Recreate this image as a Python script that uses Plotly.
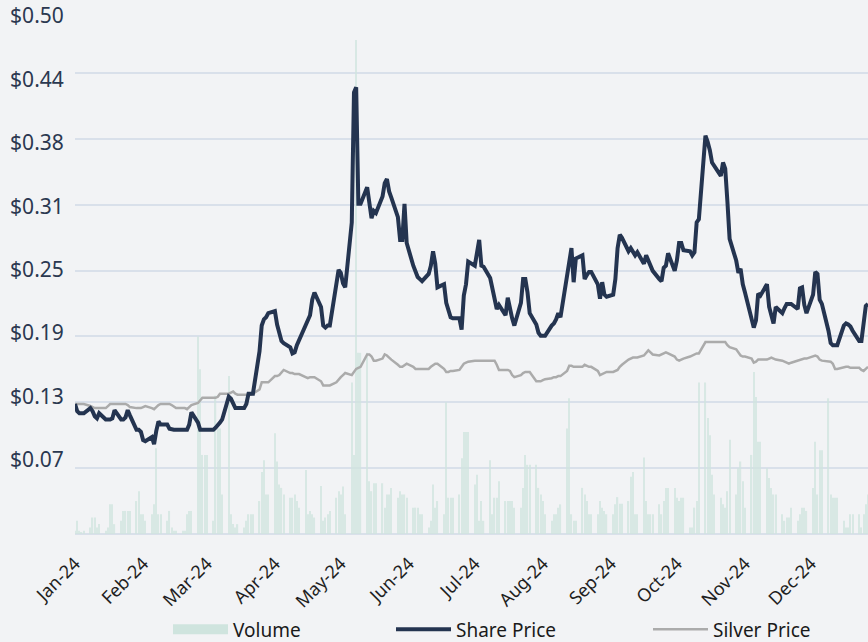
import pandas as pd
import plotly.graph_objects as go

# ---------------- data ----------------
dates = pd.bdate_range("2024-01-01", "2024-12-27")

share_price = [
    0.124, 0.117, 0.115, 0.115, 0.115,
    0.120, 0.117, 0.112, 0.110, 0.115,
    0.109, 0.109, 0.109, 0.110, 0.118,
    0.109, 0.109, 0.111, 0.118, 0.113,
    0.099, 0.099, 0.097, 0.089, 0.088,
    0.092, 0.085, 0.098, 0.107, 0.104,
    0.104, 0.100, 0.099, 0.099, 0.099,
    0.099, 0.099, 0.099, 0.104, 0.116,
    0.106, 0.099, 0.099, 0.099, 0.099,
    0.099, 0.101, 0.103, 0.106, 0.109,
    0.131, 0.129, 0.125, 0.120, 0.120,
    0.120, 0.124, 0.134, 0.134, 0.134,
    0.175, 0.200, 0.206, 0.208, 0.212,
    0.214, 0.201, 0.192, 0.185, 0.183,
    0.179, 0.173, 0.174, 0.181, 0.186,
    0.200, 0.207, 0.210, 0.225, 0.232,
    0.218, 0.200, 0.198, 0.200, 0.200,
    0.245, 0.254, 0.251, 0.241, 0.237,
    0.300, 0.426, 0.431, 0.318, 0.318,
    0.334, 0.315, 0.304, 0.311, 0.309,
    0.325, 0.338, 0.342, 0.330, 0.324,
    0.305, 0.283, 0.283, 0.318, 0.280,
    0.258, 0.252, 0.247, 0.245, 0.243,
    0.250, 0.258, 0.272, 0.260, 0.237,
    0.240, 0.222, 0.214, 0.208, 0.207,
    0.207, 0.196, 0.229, 0.240, 0.262,
    0.258, 0.270, 0.283, 0.258, 0.257,
    0.246, 0.235, 0.224, 0.216, 0.220,
    0.210, 0.227, 0.215, 0.207, 0.200,
    0.222, 0.245, 0.245, 0.232, 0.212,
    0.201, 0.193, 0.190, 0.190, 0.190,
    0.200, 0.202, 0.206, 0.212, 0.208,
    0.248, 0.260, 0.275, 0.242, 0.265,
    0.268, 0.245, 0.249, 0.252, 0.252,
    0.240, 0.226, 0.242, 0.230, 0.228,
    0.230, 0.245, 0.275, 0.288, 0.285,
    0.272, 0.275, 0.272, 0.268, 0.271,
    0.260, 0.268, 0.263, 0.257, 0.253,
    0.245, 0.243, 0.256, 0.258, 0.270,
    0.253, 0.263, 0.280, 0.280, 0.273,
    0.272, 0.268, 0.271, 0.300, 0.303,
    0.384, 0.378, 0.370, 0.358, 0.355,
    0.345, 0.358, 0.352, 0.320, 0.284,
    0.263, 0.251, 0.255, 0.240, 0.232,
    0.208, 0.198, 0.205, 0.231, 0.229,
    0.240, 0.218, 0.208, 0.202, 0.218,
    0.212, 0.217, 0.221, 0.221, 0.221,
    0.216, 0.236, 0.237, 0.220, 0.212,
    0.230, 0.252, 0.250, 0.225, 0.221,
    0.195, 0.183, 0.181, 0.181, 0.181,
    0.200, 0.202, 0.201, 0.199, 0.195,
    0.185, 0.185, 0.200, 0.219, 0.221,
]

silver_price = [
    0.124, 0.124, 0.124, 0.124, 0.124,
    0.122, 0.121, 0.120, 0.120, 0.120,
    0.120, 0.122, 0.124, 0.124, 0.124,
    0.124, 0.124, 0.124, 0.123, 0.121,
    0.120, 0.120, 0.120, 0.121, 0.122,
    0.120, 0.119, 0.121, 0.123, 0.124,
    0.124, 0.124, 0.123, 0.121, 0.120,
    0.120, 0.120, 0.119, 0.121, 0.123,
    0.125, 0.127, 0.130, 0.130, 0.130,
    0.130, 0.130, 0.131, 0.134, 0.134,
    0.134, 0.135, 0.136, 0.134, 0.133,
    0.133, 0.133, 0.133, 0.133, 0.134,
    0.138, 0.145, 0.145, 0.145, 0.145,
    0.151, 0.151, 0.152, 0.155, 0.157,
    0.154, 0.154, 0.153, 0.153, 0.153,
    0.150, 0.149, 0.150, 0.150, 0.150,
    0.146, 0.142, 0.142, 0.142, 0.142,
    0.145, 0.148, 0.150, 0.152, 0.154,
    0.152, 0.155, 0.158, 0.159, 0.160,
    0.172, 0.172, 0.170, 0.166, 0.166,
    0.168, 0.172, 0.171, 0.169, 0.167,
    0.162, 0.160, 0.160, 0.162, 0.163,
    0.160, 0.158, 0.158, 0.158, 0.158,
    0.158, 0.160, 0.162, 0.163, 0.163,
    0.158, 0.155, 0.155, 0.156, 0.156,
    0.157, 0.160, 0.163, 0.164, 0.165,
    0.166, 0.166, 0.166, 0.166, 0.166,
    0.166, 0.166, 0.166, 0.162, 0.157,
    0.157, 0.157, 0.156, 0.152, 0.150,
    0.152, 0.154, 0.155, 0.155, 0.155,
    0.146, 0.146, 0.146, 0.147, 0.148,
    0.149, 0.150, 0.150, 0.151, 0.151,
    0.156, 0.161, 0.161, 0.160, 0.160,
    0.160, 0.162, 0.161, 0.160, 0.160,
    0.156, 0.152, 0.153, 0.154, 0.155,
    0.155, 0.156, 0.157, 0.160, 0.162,
    0.167, 0.168, 0.169, 0.169, 0.169,
    0.171, 0.173, 0.176, 0.174, 0.172,
    0.171, 0.172, 0.173, 0.174, 0.173,
    0.170, 0.167, 0.166, 0.167, 0.168,
    0.170, 0.171, 0.172, 0.173, 0.173,
    0.184, 0.184, 0.184, 0.184, 0.184,
    0.184, 0.184, 0.184, 0.181, 0.179,
    0.177, 0.174, 0.171, 0.170, 0.170,
    0.168, 0.164, 0.165, 0.167, 0.167,
    0.167, 0.168, 0.169, 0.168, 0.167,
    0.166, 0.165, 0.164, 0.163, 0.164,
    0.166, 0.167, 0.167, 0.168, 0.168,
    0.170, 0.171, 0.170, 0.167, 0.166,
    0.165, 0.165, 0.163, 0.158, 0.158,
    0.160, 0.160, 0.160, 0.159, 0.159,
    0.159, 0.157, 0.156, 0.158, 0.160,
]

volume = [  # millions of shares
    0.05, 0.20, 0.05, 0.03, 0.05,
    0.10, 0.25, 0.25, 0.10, 0.15,
    0.05, 0.10, 0.45, 0.45, 0.15,
    0.20, 0.35, 0.35, 0.35, 0.35,
    0.50, 0.65, 0.30, 0.30, 0.20,
    0.30, 0.45, 1.30, 0.30, 0.30,
    0.20, 0.35, 0.10, 0.05, 0.05,
    0.05, 0.05, 0.30, 0.35, 0.35,
    3.00, 2.50, 1.20, 1.20, 1.20,
    0.20, 2.10, 1.60, 1.60, 0.60,
    2.40, 0.30, 0.15, 0.10, 0.15,
    0.10, 0.20, 0.30, 0.30, 0.30,
    0.50, 0.94, 1.12, 0.60, 0.60,
    1.53, 1.10, 0.75, 0.70, 0.60,
    0.55, 0.55, 0.60, 0.50, 0.40,
    0.97, 0.30, 0.35, 0.30, 0.25,
    0.73, 0.20, 0.25, 0.30, 0.35,
    0.55, 0.65, 0.60, 0.72, 0.30,
    2.30, 1.20, 7.50, 2.75, 2.75,
    2.75, 0.80, 0.65, 0.77, 0.77,
    0.77, 0.40, 0.60, 0.60, 0.70,
    0.55, 0.65, 0.60, 0.60, 0.55,
    0.40, 0.40, 0.40, 0.30, 0.30,
    0.10, 0.20, 0.75, 0.40, 0.50,
    0.30, 2.00, 0.55, 0.55, 0.55,
    0.60, 1.15, 1.55, 1.55, 1.55,
    0.75, 0.90, 0.20, 0.50, 0.20,
    1.12, 0.30, 0.55, 0.55, 0.80,
    0.50, 0.50, 0.50, 0.50, 0.40,
    0.40, 0.70, 1.20, 1.05, 1.05,
    1.05, 0.70, 0.60, 0.50, 0.30,
    0.20, 0.30, 0.30, 0.40, 0.45,
    1.60, 2.06, 0.30, 0.20, 0.20,
    0.70, 0.60, 0.50, 0.30, 0.30,
    0.30, 0.50, 0.40, 0.35, 0.30,
    0.30, 0.45, 0.56, 0.46, 0.46,
    0.50, 0.87, 0.94, 0.30, 0.30,
    1.16, 0.50, 0.30, 0.30, 0.30,
    0.45, 0.30, 0.50, 0.70, 0.70,
    0.70, 0.55, 0.50, 0.55, 0.55,
    0.10, 0.10, 0.40, 0.50, 2.30,
    2.30, 1.76, 1.50, 0.90, 0.60,
    0.55, 0.45, 0.40, 0.65, 1.43,
    0.60, 1.00, 1.10, 0.80, 0.40,
    1.20, 2.46, 2.08, 1.40, 1.40,
    1.00, 0.85, 0.70, 0.60, 0.60,
    0.30, 0.20, 0.25, 0.25, 0.40,
    0.20, 0.30, 0.40, 0.40, 0.35,
    0.70, 1.40, 0.60, 1.27, 1.27,
    2.06, 0.60, 0.55, 0.55, 0.55,
    0.20, 0.10, 0.10, 0.30, 0.30,
    0.30, 0.10, 0.30, 0.45, 0.60,
]

price_tick_values = [0.07, 0.1314, 0.1929, 0.2543, 0.3157, 0.3771, 0.4386, 0.50]
price_tick_labels = ["$0.07", "$0.13", "$0.19", "$0.25", "$0.31", "$0.38", "$0.44", "$0.50"]
month_ticks = pd.date_range("2024-01-01", "2024-12-01", freq="MS")
month_labels = [d.strftime("%b-%y") for d in month_ticks]

# ---------------- figure ----------------
FONT = "Noto Sans"
BG = "#f2f3f5"
GRID = "#d9e0ea"
VOL_COLOR = "#cfe4de"

fig = go.Figure()
fig.add_trace(go.Bar(
    x=dates, y=volume, name="Volume", yaxis="y",
    marker=dict(color=VOL_COLOR, opacity=0.75, line=dict(width=0)),
    showlegend=False,
))
# legend entry for the volume bars (wide swatch)
fig.add_trace(go.Scatter(
    x=[None], y=[None], name="Volume", mode="lines", yaxis="y",
    line=dict(color=VOL_COLOR, width=11), legend="legend",
))
fig.add_trace(go.Scatter(
    x=dates, y=silver_price, name="Silver Price", yaxis="y2", mode="lines",
    line=dict(color="#ababab", width=2.5), legend="legend3",
))
fig.add_trace(go.Scatter(
    x=dates, y=share_price, name="Share Price", yaxis="y2", mode="lines",
    line=dict(color="#243450", width=4), legend="legend2",
))

legend_common = dict(
    orientation="h", yanchor="middle", xanchor="left", y=-0.181,
    font=dict(family=FONT, size=19, color="#1a1a1a"),
    bgcolor="rgba(0,0,0,0)", itemwidth=55,
)

fig.update_layout(
    width=868, height=642,
    margin=dict(l=75, r=0, t=7, b=108, autoexpand=False),
    paper_bgcolor=BG, plot_bgcolor=BG,
    bargap=0.45,
    xaxis=dict(
        type="date", range=["2024-01-01", "2024-12-27"],
        tickvals=month_ticks, ticktext=month_labels, tickangle=-45,
        tickfont=dict(family=FONT, size=18, color="#1f1f1f"),
        showgrid=False, zeroline=False, showline=False,
        ticks="outside", ticklen=11, tickcolor=BG, automargin=False,
    ),
    yaxis=dict(
        range=[0, 8], dtick=1, showticklabels=False,
        showgrid=True, gridcolor=GRID, gridwidth=2,
        zeroline=True, zerolinecolor=GRID, zerolinewidth=2,
        automargin=False,
    ),
    yaxis2=dict(
        overlaying="y", side="left", range=[-0.002, 0.5087],
        tickvals=price_tick_values, ticktext=price_tick_labels,
        tickfont=dict(family=FONT, size=21, color="#2b3850"),
        showgrid=False, zeroline=False,
        ticks="outside", ticklen=6, tickcolor=BG, automargin=False,
    ),
    legend=dict(x=(168 - 75) / 793, **legend_common),
    legend2=dict(x=(391 - 75) / 793, **legend_common),
    legend3=dict(x=(648 - 75) / 793, **legend_common),
    showlegend=True,
)

fig.write_html(
    "out.html",
    config={"displayModeBar": False},
    post_script="document.body.style.margin='0';document.documentElement.style.overflow='hidden';",
)
